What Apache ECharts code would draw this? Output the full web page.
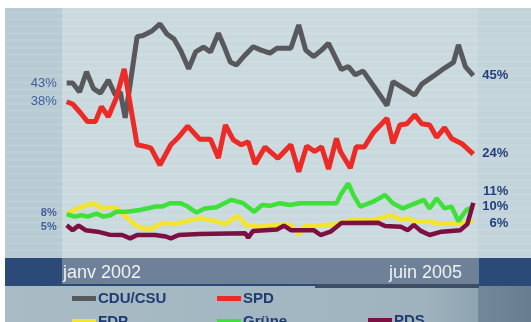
<!DOCTYPE html>
<html>
<head>
<meta charset="utf-8">
<script src="https://cdn.jsdelivr.net/npm/echarts@6/dist/echarts.min.js"></script>
<style>
  html, body { margin: 0; padding: 0; background: #ffffff; }
  #chart { width: 531px; height: 322px; }
</style>
</head>
<body>
<div id="chart"></div>
<script>
// Poll series, January 2002 to June 2005; x = months since January 2002, y = percent
const tickLabels = ['janv 2002', 'juin 2005'];
const seriesNames = ['CDU/CSU', 'SPD', 'FDP', 'Grüne', 'PDS'];

const cduMonths = [0, 0.6, 1.3, 2.0, 2.7, 3.4, 4.2, 4.9, 5.4, 5.9, 7.1, 7.7, 8.6, 9.4, 10.1, 10.8, 11.5, 12.3, 13.0, 13.8, 14.5, 15.3, 15.9, 16.5, 17.1, 18.0, 18.8, 19.6, 20.5, 21.2, 22.6, 23.4, 24.1, 24.9, 25.7, 26.4, 27.7, 28.4, 29.1, 29.9, 31.0, 32.3, 32.9, 35.1, 35.8, 37.0, 38.1, 39.0, 39.5, 40.2, 41];
const cduValues = [43, 43, 40.6, 46, 41.5, 40.3, 43.8, 39.8, 40.6, 33.7, 55.4, 55.7, 56.9, 58.8, 56.1, 54.8, 51.6, 46.8, 51.3, 52.6, 51.3, 56.3, 52.6, 48.6, 47.8, 50.5, 52.7, 51.8, 51.0, 52.3, 52.3, 58.5, 51.8, 50.1, 51.8, 53.6, 46.6, 47.4, 45.2, 46.2, 42.0, 37.0, 43.4, 39.8, 42.7, 44.9, 47.0, 48.5, 53.2, 47.4, 45];

const spdMonths = [0, 0.6, 1.4, 2.1, 2.9, 3.5, 4.2, 5.0, 5.8, 7.1, 8.0, 8.5, 9.4, 10.5, 11.2, 12.2, 13.4, 14.5, 15.3, 16.0, 16.8, 17.6, 18.3, 19.0, 20.0, 21.3, 22.6, 23.4, 24.2, 25.0, 25.7, 26.4, 27.2, 27.6, 28.6, 29.2, 30.0, 30.9, 32.3, 32.9, 33.6, 34.3, 35.1, 35.8, 36.6, 37.3, 38.1, 38.8, 39.9, 41];
const spdValues = [38, 37.4, 35.0, 32.7, 32.7, 36.7, 34.0, 39.0, 46.8, 26.5, 26.0, 25.6, 21.1, 26.5, 28.3, 31.5, 28.0, 28.0, 23.0, 31.8, 27.8, 26.5, 27.3, 21.4, 25.9, 22.9, 26.5, 19.3, 26.2, 24.7, 26.0, 20.0, 28.2, 24.7, 20.3, 26.0, 25.9, 29.7, 33.6, 26.9, 31.8, 32.1, 34.5, 32.1, 31.8, 28.5, 31.1, 28.2, 26.7, 24];

const fdpMonths = [0, 1.0, 2.0, 2.8, 3.5, 4.4, 5.1, 5.7, 6.8, 7.6, 8.5, 9.7, 10.9, 12.4, 13.5, 15.0, 16.0, 17.2, 18.1, 19.3, 20.8, 22.3, 22.8, 23.4, 24.0, 25.9, 27.2, 28.6, 30.9, 32.8, 33.7, 34.4, 35.1, 36.1, 37.8, 39.5, 41];
const fdpValues = [8, 9.4, 10.4, 10.9, 9.5, 9.8, 9.5, 8.0, 5.3, 4.2, 4.0, 5.7, 5.3, 6.3, 6.9, 6.1, 5.3, 7.5, 5.1, 4.6, 5.1, 5.2, 4.6, 2.4, 4.8, 5.1, 5.3, 6.4, 6.4, 7.7, 6.4, 6.9, 6.0, 6.0, 5.5, 5.5, 6];

const grueneMonths = [0, 0.8, 1.5, 2.1, 3.0, 3.7, 4.4, 5.0, 6.0, 7.4, 9.0, 9.6, 10.4, 11.5, 12.2, 13.1, 13.9, 15.1, 16.6, 17.8, 18.9, 19.7, 20.5, 21.5, 22.5, 23.5, 27.2, 27.7, 28.4, 28.9, 29.6, 30.9, 32.1, 32.9, 33.9, 36.0, 36.6, 37.3, 38.1, 38.8, 39.5, 40.3, 41];
const grueneValues = [8, 7.3, 7.7, 7.3, 8.1, 7.3, 7.7, 8.6, 8.6, 9.1, 10.0, 10.0, 10.9, 10.9, 10.0, 8.4, 9.5, 9.8, 11.8, 10.9, 8.6, 10.4, 10.2, 10.9, 10.4, 10.9, 10.9, 13.5, 16.2, 13.1, 10.0, 11.3, 13.1, 10.9, 9.5, 11.8, 9.5, 12.2, 9.5, 10.0, 6.1, 9.1, 10];

const pdsMonths = [0, 0.6, 1.2, 1.9, 3.1, 4.3, 5.6, 6.4, 7.1, 8.9, 10.0, 10.5, 11.3, 13.4, 18.0, 18.3, 18.8, 21.2, 21.9, 22.6, 24.9, 25.6, 26.6, 27.7, 31.4, 32.1, 33.7, 34.4, 35.0, 35.7, 36.6, 37.8, 39.7, 40.4, 41];
const pdsValues = [5, 3.7, 4.9, 3.7, 3.3, 2.5, 2.4, 1.5, 2.4, 2.4, 2.0, 1.5, 2.4, 2.7, 2.9, 1.7, 3.5, 3.9, 4.9, 3.7, 3.7, 2.4, 3.3, 5.6, 5.7, 4.8, 4.6, 3.7, 5.1, 3.5, 2.4, 3.3, 3.7, 5.3, 11];

const seriesColors = ['#58595c', '#ec2a26', '#f3e52e', '#3fe03a', '#7c1043'];

const FONT = '"Liberation Sans", Arial, sans-serif';
const pair = (xs, ys) => xs.map((x, i) => [x, ys[i]]);
const seriesData = [
  pair(cduMonths, cduValues),
  pair(spdMonths, spdValues),
  pair(fdpMonths, fdpValues),
  pair(grueneMonths, grueneValues),
  pair(pdsMonths, pdsValues)
];

const chart = echarts.init(document.getElementById('chart'), null, { renderer: 'canvas' });

// Studio-style backdrop: pale striped panel, dark date band, legend strip
const backdrop = [
  { type: 'rect', z: -10, shape: { x: 0, y: 0, width: 531, height: 322 }, style: { fill: '#ffffff' } },
  { type: 'rect', z: -9, shape: { x: 5, y: 8, width: 526, height: 250 }, style: { fill: '#c9d9de' } },
  { type: 'rect', z: -9, shape: { x: 5, y: 8, width: 57, height: 250 }, style: { fill: '#b8cbd3' } },
  { type: 'rect', z: -9, shape: { x: 478, y: 8, width: 53, height: 250 }, style: { fill: '#c2d3d9' } }
];
for (let y = 11; y < 256; y += 7) {
  backdrop.push({ type: 'rect', z: -8, shape: { x: 5, y: y, width: 526, height: 3 }, style: { fill: 'rgba(255,255,255,0.08)' } });
}
backdrop.push(
  { type: 'rect', z: -7, shape: { x: 5, y: 286, width: 526, height: 36 },
    style: { fill: new echarts.graphic.LinearGradient(0, 0, 1, 0, [
      { offset: 0, color: '#a9bcc6' }, { offset: 0.8, color: '#9fb3be' }, { offset: 1, color: '#7d94a3' }
    ]) } },
  { type: 'rect', z: -6, shape: { x: 478, y: 286, width: 53, height: 36 }, style: { fill: 'rgba(60,85,105,0.35)' } },
  { type: 'rect', z: -6, shape: { x: 5, y: 258, width: 526, height: 28 }, style: { fill: '#2b4a78' } },
  { type: 'rect', z: -5, shape: { x: 62, y: 258, width: 417, height: 26 }, style: { fill: '#6e8199' } },
  { type: 'rect', z: -5, shape: { x: 315, y: 284, width: 164, height: 4 }, style: { fill: '#3d4d63' } },
  { type: 'text', z: 5, style: { x: 63, y: 273, text: tickLabels[0], fill: '#eef2f6', font: '18px ' + FONT, textAlign: 'left', textVerticalAlign: 'middle' } },
  { type: 'text', z: 5, style: { x: 462, y: 273, text: tickLabels[1], fill: '#eef2f6', font: '18px ' + FONT, textAlign: 'right', textVerticalAlign: 'middle' } }
);

const legendSpots = [[72, 291], [217, 291], [72, 314], [217, 314], [368, 313]];

chart.setOption({
  animation: false,
  grid: { left: 66.7, right: 57.7, top: 19.4, bottom: 78 },
  xAxis: { type: 'value', min: 0, max: 41, show: false },
  yAxis: { type: 'value', min: 0, max: 60, show: false },
  legend: seriesNames.map((name, i) => ({
    data: [name], left: legendSpots[i][0], top: legendSpots[i][1], padding: 0,
    icon: 'rect', itemWidth: 24, itemHeight: 5, itemGap: 0, selectedMode: false,
    textStyle: { fontSize: 15, fontWeight: 'bold', color: '#1f3b72', fontFamily: FONT, padding: [0, 0, 0, -3] }
  })),
  series: seriesNames.map((name, i) => ({
    name: name, type: 'line', data: seriesData[i], showSymbol: false, symbol: 'none',
    clip: false, color: seriesColors[i],
    lineStyle: { width: i < 2 ? 5 : 4.5, color: seriesColors[i] }
  })),
  graphic: backdrop
});

// Value tags at both ends of the lines, placed through the grid's own scale
const tagSpecs = [
  { s: 0, end: 'first', dy: 0, size: 13, weight: 'normal', color: '#3e5c9c' },
  { s: 1, end: 'first', dy: 0, size: 13, weight: 'normal', color: '#3e5c9c' },
  { s: 2, end: 'first', dy: -1, size: 11, weight: 'bold', color: '#435c9a' },
  { s: 4, end: 'first', dy: 1.5, size: 11, weight: 'bold', color: '#435c9a' },
  { s: 0, end: 'last', dy: 0, size: 13, weight: 'bold', color: '#233f7c' },
  { s: 1, end: 'last', dy: -1, size: 13, weight: 'bold', color: '#233f7c' },
  { s: 4, end: 'last', dy: -11, size: 13, weight: 'bold', color: '#233f7c' },
  { s: 3, end: 'last', dy: 0, size: 13, weight: 'bold', color: '#233f7c' },
  { s: 2, end: 'last', dy: 1.5, size: 13, weight: 'bold', color: '#233f7c' }
];
const tags = tagSpecs.map(t => {
  const d = seriesData[t.s];
  const p = t.end === 'first' ? d[0] : d[d.length - 1];
  const px = chart.convertToPixel({ gridIndex: 0 }, p);
  const x = t.end === 'first' ? px[0] - 10 : px[0] + 35;
  return {
    type: 'text', z: 10,
    style: { x: x, y: px[1] + t.dy, text: p[1] + '%', fill: t.color, textAlign: 'right', textVerticalAlign: 'middle',
      font: t.weight + ' ' + t.size + 'px ' + FONT }
  };
});
chart.setOption({ graphic: backdrop.concat(tags) });
</script>
</body>
</html>
